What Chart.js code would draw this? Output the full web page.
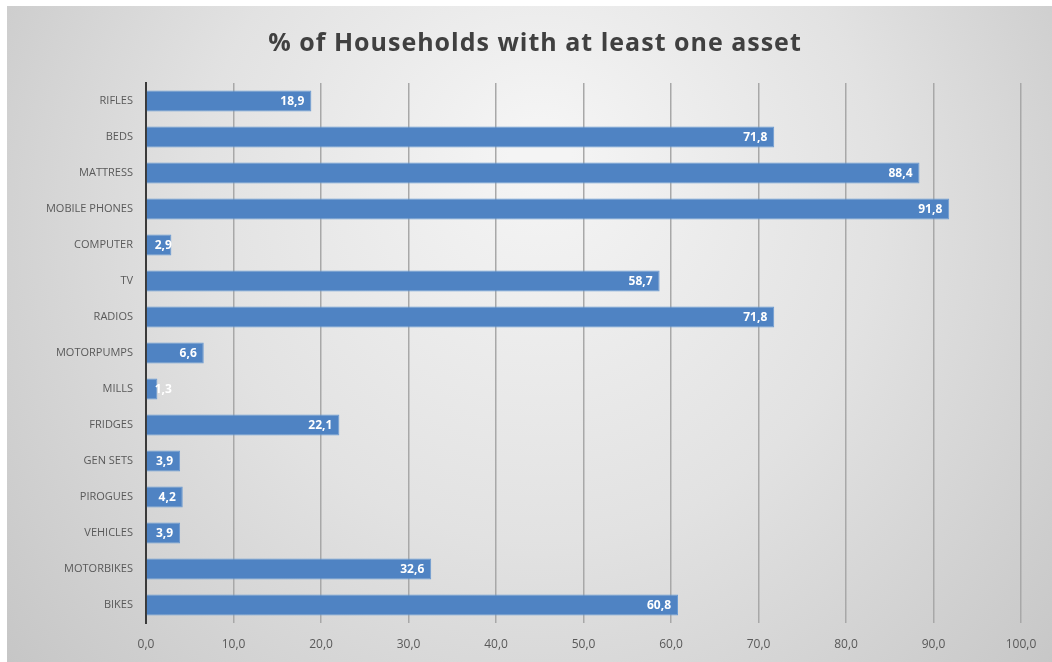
<!DOCTYPE html>
<html>
<head>
<meta charset="utf-8">
<script src="https://cdn.jsdelivr.net/npm/chart.js@4/dist/chart.umd.min.js"></script>
<style>
  html, body { margin: 0; padding: 0; background: #ffffff; }
  #wrap { width: 1052px; height: 662px; }
</style>
</head>
<body>
<div id="wrap"><canvas id="chart" width="1052" height="662"></canvas></div>
<script>
// Household asset ownership, % of households owning at least one
const categories = ['RIFLES', 'BEDS', 'MATTRESS', 'MOBILE PHONES', 'COMPUTER', 'TV', 'RADIOS',
  'MOTORPUMPS', 'MILLS', 'FRIDGES', 'GEN SETS', 'PIROGUES', 'VEHICLES', 'MOTORBIKES', 'BIKES'];
const shares = [18.9, 71.8, 88.4, 91.8, 2.9, 58.7, 71.8, 6.6, 1.3, 22.1, 3.9, 4.2, 3.9, 32.6, 60.8];
const xTicks = [0, 10, 20, 30, 40, 50, 60, 70, 80, 90, 100];
const titleText = '% of Households with at least one asset';

const fmt = v => v.toFixed(1).replace('.', ',');

// Soft grey panel behind the chart, plus the heading
const panelBackground = {
  id: 'panelBackground',
  beforeDraw(chart) {
    const { ctx, width, height } = chart;
    ctx.save();
    ctx.fillStyle = '#ffffff';
    ctx.fillRect(0, 0, width, height);
    const g = ctx.createRadialGradient(540, 150, 30, 540, 260, 720);
    g.addColorStop(0, '#f4f4f4');
    g.addColorStop(0.45, '#e2e2e2');
    g.addColorStop(1, '#c2c2c2');
    ctx.fillStyle = g;
    ctx.fillRect(7, 6, width - 7, height - 6);

    ctx.font = 'bold 25px "Open Sans", sans-serif';
    ctx.letterSpacing = '1px';
    ctx.fillStyle = '#404040';
    ctx.textAlign = 'center';
    ctx.textBaseline = 'middle';
    ctx.fillText(titleText, 535, 44);
    ctx.restore();
  }
};

// Value labels placed inside the bar end
const barLabels = {
  id: 'barLabels',
  afterDatasetsDraw(chart) {
    const { ctx } = chart;
    const meta = chart.getDatasetMeta(0);
    ctx.save();
    ctx.font = 'bold 12px "Open Sans", sans-serif';
    ctx.fillStyle = '#ffffff';
    ctx.textAlign = 'right';
    ctx.textBaseline = 'middle';
    meta.data.forEach((bar, i) => {
      const txt = fmt(shares[i]);
      const w = ctx.measureText(txt).width;
      const x = Math.max(bar.x - 7, bar.base + 8 + w);
      ctx.fillText(txt, x, bar.y + 1);
    });
    ctx.restore();
  }
};

new Chart(document.getElementById('chart'), {
  type: 'bar',
  data: {
    labels: categories,
    datasets: [{
      data: shares,
      backgroundColor: '#4f83c3',
      borderColor: '#6a9ad2',
      borderWidth: 1,
      barPercentage: 0.58,
      categoryPercentage: 1.0
    }]
  },
  options: {
    indexAxis: 'y',
    responsive: false,
    animation: false,
    layout: { padding: { left: 0, right: 31, top: 83, bottom: 0 } },
    plugins: {
      legend: { display: false },
      tooltip: { enabled: false },
      title: { display: false }
    },
    scales: {
      x: {
        min: 0,
        max: 100,
        afterBuildTicks(scale) { scale.ticks = xTicks.map(v => ({ value: v })); },
        afterFit(scale) { scale.height = 39; },
        grid: { color: '#a8a8a8', lineWidth: 1.5, drawTicks: false },
        border: { display: false },
        ticks: {
          padding: 14,
          color: '#595959',
          font: { family: '"Open Sans", sans-serif', size: 12 },
          callback: v => fmt(v)
        }
      },
      y: {
        afterFit(scale) { scale.width = 146; },
        grid: { display: false, drawTicks: false },
        border: { display: true, color: '#3a3a3a', width: 2 },
        ticks: {
          padding: 13,
          color: '#595959',
          font: { family: '"Open Sans", sans-serif', size: 11 }
        }
      }
    }
  },
  plugins: [panelBackground, barLabels]
});
</script>
</body>
</html>
